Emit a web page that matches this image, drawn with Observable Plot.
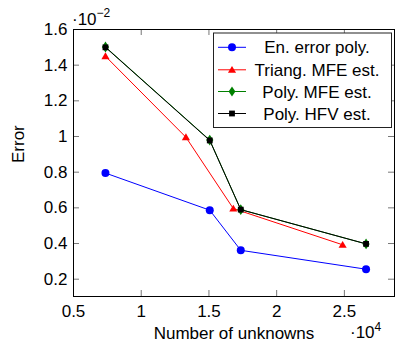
<!DOCTYPE html>
<html>
<head>
<meta charset="utf-8">
<script src="https://cdn.jsdelivr.net/npm/d3@7"></script>
<script src="https://cdn.jsdelivr.net/npm/@observablehq/plot@0.6"></script>
<style>
  body { margin: 0; background: #fff; }
  #wrap { position: relative; width: 396px; height: 343px; font-family: "Liberation Sans", Arial, Helvetica, sans-serif; }
  #overlay { position: absolute; left: 0; top: 0; pointer-events: none; }
</style>
</head>
<body>
<div id="wrap"></div>
<script>
// ---- data ----
const unknownsPoly = [7360, 15060, 17350, 26600];
const unknownsTri  = [7360, 13300, 16800, 24870];
const enErrorPoly  = [0.00795, 0.00587, 0.00362, 0.00256];
const triangMFE    = [0.01450, 0.00996, 0.00596, 0.00393];
const polyMFE      = [0.01502, 0.00980, 0.00590, 0.00398];
const polyHFV      = [0.01500, 0.00978, 0.00590, 0.00398];
const xTicks = [5000, 10000, 15000, 20000, 25000];
const yTicks = [0.002, 0.004, 0.006, 0.008, 0.010, 0.012, 0.014, 0.016];
const seriesNames = ["En. error poly.", "Triang. MFE est.", "Poly. MFE est.", "Poly. HFV est."];
const seriesColors = ["#0000ff", "#ff0000", "#008000", "#000000"];

const series = [
  {name: seriesNames[0], xs: unknownsPoly, ys: enErrorPoly},
  {name: seriesNames[1], xs: unknownsTri,  ys: triangMFE},
  {name: seriesNames[2], xs: unknownsPoly, ys: polyMFE},
  {name: seriesNames[3], xs: unknownsPoly, ys: polyHFV}
];
const rows = series.flatMap(s => s.xs.map((x, i) => ({series: s.name, x, y: s.ys[i]})));
const bySeries = n => rows.filter(r => r.series === n);

// custom symbols (pgfplots-like)
const diamondSym = {draw(ctx, size) { const s = Math.sqrt(size / Math.PI); ctx.moveTo(0, -1.5 * s); ctx.lineTo(s, 0); ctx.lineTo(0, 1.5 * s); ctx.lineTo(-s, 0); ctx.closePath(); }};
const triSym = {draw(ctx, size) { const s = Math.sqrt(size / Math.PI); ctx.moveTo(0, -1.3 * s); ctx.lineTo(1.35 * s, 1.0 * s); ctx.lineTo(-1.35 * s, 1.0 * s); ctx.closePath(); }};
const squareSym = {draw(ctx, size) { const s = Math.sqrt(size / Math.PI); ctx.rect(-s, -s, 2 * s, 2 * s); }};

const W = 396, H = 343, mL = 73, mR = 2, mT = 29, mB = 47;
const pw = W - mL - mR, ph = H - mT - mB;
const tickLen = 6;
const FS = 17;
const fmtY = d => String(+(d * 100).toFixed(1));
const fmtX = d => String(d / 1e4);

const chart = Plot.plot({
  width: W, height: H,
  marginLeft: mL, marginRight: mR, marginTop: mT, marginBottom: mB,
  style: {fontFamily: '"Liberation Sans", Arial, Helvetica, sans-serif', fontSize: FS + "px", color: "#000", background: "#fff"},
  x: {domain: [5000, 28700]},
  y: {domain: [0.00103, 0.016]},
  marks: [
    Plot.axisX({ticks: xTicks, tickFormat: fmtX, tickSize: 0, tickPadding: 8, label: null, fontSize: FS}),
    Plot.axisY({ticks: yTicks, tickFormat: fmtY, tickSize: 0, tickPadding: 6, label: null, fontSize: FS}),
    // inward ticks on all four sides
    Plot.tickX(xTicks, {x: d => d, stroke: "#777", insetTop: ph - tickLen}),
    Plot.tickX(xTicks, {x: d => d, stroke: "#777", insetBottom: ph - tickLen}),
    Plot.tickY(yTicks, {y: d => d, stroke: "#777", insetRight: pw - tickLen}),
    Plot.tickY(yTicks, {y: d => d, stroke: "#777", insetLeft: pw - tickLen}),
    Plot.frame({stroke: "#000", strokeWidth: 1}),
    // series
    Plot.line(bySeries(seriesNames[0]), {x: "x", y: "y", stroke: seriesColors[0], strokeWidth: 1}),
    Plot.dot(bySeries(seriesNames[0]), {x: "x", y: "y", fill: seriesColors[0], r: 4, symbol: "circle"}),
    Plot.line(bySeries(seriesNames[1]), {x: "x", y: "y", stroke: seriesColors[1], strokeWidth: 1}),
    Plot.dot(bySeries(seriesNames[1]), {x: "x", y: "y", fill: seriesColors[1], r: 3, symbol: triSym}),
    Plot.line(bySeries(seriesNames[2]), {x: "x", y: "y", stroke: seriesColors[2], strokeWidth: 1}),
    Plot.dot(bySeries(seriesNames[2]), {x: "x", y: "y", fill: seriesColors[2], r: 3.6, symbol: diamondSym}),
    Plot.line(bySeries(seriesNames[3]), {x: "x", y: "y", stroke: seriesColors[3], strokeWidth: 1}),
    Plot.dot(bySeries(seriesNames[3]), {x: "x", y: "y", fill: seriesColors[3], r: 2.9, symbol: squareSym}),
    // axis labels
    Plot.text(["Number of unknowns"], {text: d => d, frameAnchor: "bottom", dy: 42, lineAnchor: "bottom", fontSize: FS}),
    Plot.text(["Error"], {text: d => d, frameAnchor: "left", dx: -50, rotate: -90, lineAnchor: "bottom", fontSize: FS})
  ]
});
const wrap = document.getElementById("wrap");
wrap.appendChild(chart);

// overlay: scale exponents + legend
const ns = "http://www.w3.org/2000/svg";
const ov = document.createElementNS(ns, "svg");
ov.setAttribute("id", "overlay");
ov.setAttribute("width", W); ov.setAttribute("height", H);
ov.setAttribute("font-family", '"Liberation Sans", Arial, Helvetica, sans-serif');
function el(tag, attrs, parent) { const e = document.createElementNS(ns, tag); for (const k in attrs) e.setAttribute(k, attrs[k]); (parent || ov).appendChild(e); return e; }

// exponents
const t1 = el("text", {x: 72, y: 25, "font-size": FS});
t1.textContent = "·10";
const s1 = el("tspan", {dy: -8.5, "font-size": 12}, t1); s1.textContent = "−2";
const t2 = el("text", {x: 350, y: 338, "font-size": FS});
t2.textContent = "·10";
const s2 = el("tspan", {dy: -7, "font-size": 12}, t2); s2.textContent = "4";

// legend
el("rect", {x: 213.5, y: 33, width: 178, height: 94.5, fill: "#fff", stroke: "#222", "stroke-width": 1});
const rowY = [47.3, 69.8, 91.5, 113.5];
const symPaths = [
  d3.symbol(d3.symbolCircle, Math.PI * 16)(),
  d3.symbol(triSym, Math.PI * 9)(),
  d3.symbol(diamondSym, Math.PI * 3.4 * 3.4)(),
  d3.symbol(squareSym, Math.PI * 2.9 * 2.9)()
];
seriesNames.forEach((name, i) => {
  const y = rowY[i];
  el("line", {x1: 218, x2: 246, y1: y, y2: y, stroke: seriesColors[i], "stroke-width": 1});
  el("path", {d: symPaths[i], transform: `translate(232,${y})`, fill: seriesColors[i]});
  const t = el("text", {x: 317, y: y, dy: "0.36em", "text-anchor": "middle", "font-size": FS});
  t.textContent = name;
});
wrap.appendChild(ov);
</script>
</body>
</html>
